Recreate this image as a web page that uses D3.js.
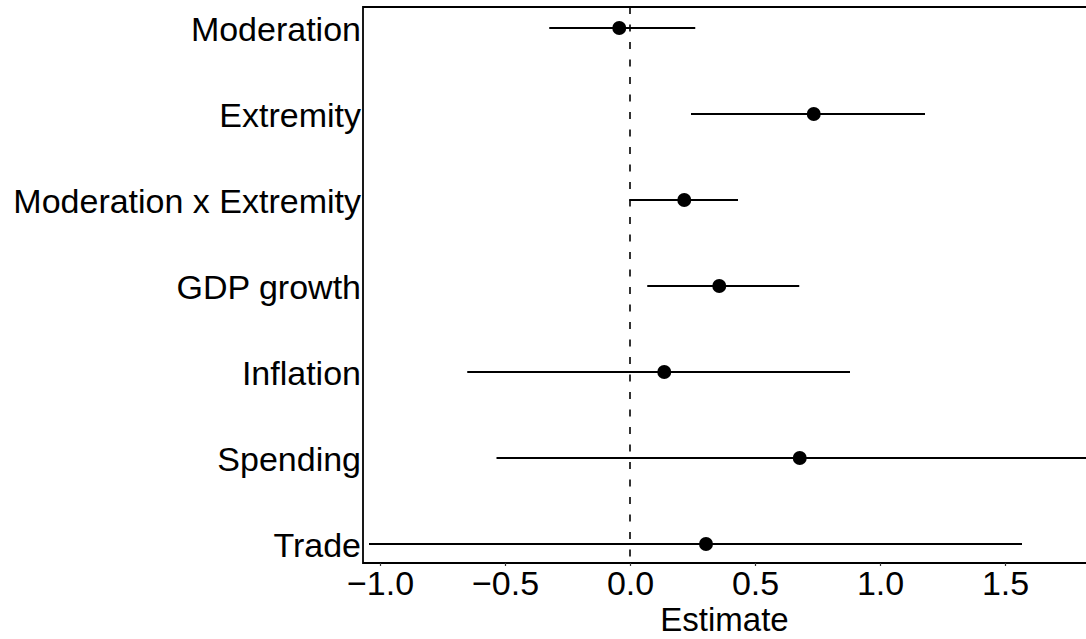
<!DOCTYPE html>
<html>
<head>
<meta charset="utf-8">
<script src="https://cdn.jsdelivr.net/npm/d3@7"></script>
<style>
  html, body { margin: 0; padding: 0; background: #fff; }
  svg { display: block; }
  text { font-family: "Liberation Sans", Arial, sans-serif; fill: #000; }
</style>
</head>
<body>
<script>
const categories = ["Moderation", "Extremity", "Moderation x Extremity", "GDP growth", "Inflation", "Spending", "Trade"];
const estimates  = [-0.043, 0.735, 0.217, 0.357, 0.137, 0.679, 0.304];
const lower      = [-0.323, 0.244, -0.003, 0.069, -0.651, -0.534, -1.044];
const upper      = [0.261, 1.180, 0.432, 0.677, 0.880, 1.900, 1.568];
const xTicks     = [-1.0, -0.5, 0.0, 0.5, 1.0, 1.5];
const xLabel     = "Estimate";

const W = 1086, H = 639;
const panel = { left: 363, top: 7, right: 1086, bottom: 563 };
const fontSize = 34;

const svg = d3.select("body").append("svg").attr("width", W).attr("height", H);

const x = d3.scaleLinear().domain([-1.068, 1.824]).range([panel.left, panel.right]);
const y = d3.scalePoint().domain(categories).range([28, 544]);

svg.append("defs").append("clipPath").attr("id", "clip")
  .append("rect").attr("x", panel.left).attr("y", panel.top)
  .attr("width", panel.right - panel.left).attr("height", panel.bottom - panel.top);

const g = svg.append("g").attr("clip-path", "url(#clip)");

g.append("line")
  .attr("x1", x(0)).attr("x2", x(0))
  .attr("y1", panel.top).attr("y2", panel.bottom)
  .attr("stroke", "#000").attr("stroke-width", 1.6)
  .attr("stroke-dasharray", "7,10.5");

const rows = categories.map((c, i) => ({ c, est: estimates[i], lo: lower[i], hi: upper[i] }));

g.selectAll("line.err").data(rows).enter().append("line")
  .attr("class", "err")
  .attr("x1", d => x(d.lo)).attr("x2", d => x(d.hi))
  .attr("y1", d => y(d.c)).attr("y2", d => y(d.c))
  .attr("stroke", "#000").attr("stroke-width", 2);

g.selectAll("circle.pt").data(rows).enter().append("circle")
  .attr("class", "pt")
  .attr("cx", d => x(d.est)).attr("cy", d => y(d.c))
  .attr("r", 7).attr("fill", "#000");

svg.append("path")
  .attr("d", `M${panel.right + 5},${panel.top} L${panel.left},${panel.top} L${panel.left},${panel.bottom} L${panel.right + 5},${panel.bottom}`)
  .attr("fill", "none").attr("stroke", "#000").attr("stroke-width", 1.8);

const xAxis = d3.axisBottom(x).tickValues(xTicks).tickSize(3).tickPadding(6)
  .tickFormat(d => d3.format(".1f")(d).replace("-", "\u2212"));
const gx = svg.append("g").attr("transform", `translate(0,${panel.bottom})`).call(xAxis);
gx.select(".domain").remove();
gx.selectAll(".tick line").attr("stroke", "#333").attr("stroke-width", 1.2);
gx.selectAll(".tick text").attr("font-size", fontSize).attr("dy", null).attr("y", 32)
  .style("font-family", '"Liberation Sans", Arial, sans-serif').attr("fill", "#000");

const yAxis = d3.axisLeft(y).tickSize(0).tickPadding(2);
const gy = svg.append("g").attr("transform", `translate(${panel.left},0)`).call(yAxis);
gy.select(".domain").remove();
gy.selectAll(".tick text").attr("font-size", fontSize).attr("dy", "0.36em")
  .style("font-family", '"Liberation Sans", Arial, sans-serif').attr("fill", "#000");

svg.append("text")
  .attr("x", (panel.left + panel.right) / 2).attr("y", 631)
  .attr("text-anchor", "middle").attr("font-size", 33)
  .text(xLabel);
</script>
</body>
</html>
